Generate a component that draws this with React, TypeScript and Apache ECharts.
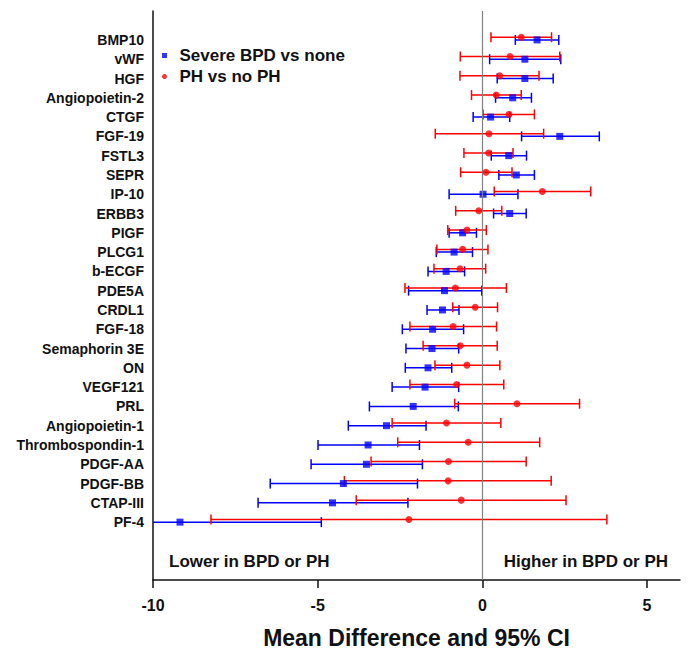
import React, { useEffect, useRef } from "react";
import * as echarts from "echarts";

const categories = [
  "BMP10", "vWF", "HGF", "Angiopoietin-2", "CTGF", "FGF-19", "FSTL3", "SEPR", "IP-10", "ERBB3",
  "PIGF", "PLCG1", "b-ECGF", "PDE5A", "CRDL1", "FGF-18", "Semaphorin 3E", "ON", "VEGF121", "PRL",
  "Angiopoietin-1", "Thrombospondin-1", "PDGF-AA", "PDGF-BB", "CTAP-III", "PF-4",
];
const bpdMean = [1.66, 1.29, 1.29, 0.92, 0.25, 2.35, 0.8, 1.03, 0.02, 0.83, -0.6, -0.86, -1.1, -1.15, -1.21, -1.51, -1.53, -1.65, -1.74, -2.1, -2.91, -3.47, -3.52, -4.22, -4.55, -9.18];
const bpdLow = [1.0, 0.22, 0.45, 0.4, -0.28, 1.19, 0.27, 0.5, -1.01, 0.34, -1.01, -1.4, -1.65, -2.24, -1.68, -2.43, -2.32, -2.34, -2.74, -3.43, -4.07, -4.99, -5.2, -6.44, -6.81, -13.47];
const bpdHigh = [2.32, 2.38, 2.15, 1.49, 0.83, 3.55, 1.34, 1.58, 1.08, 1.33, -0.18, -0.3, -0.54, -0.02, -0.71, -0.57, -0.72, -0.93, -0.72, -0.73, -1.71, -1.91, -1.82, -1.97, -2.26, -4.89];
const phMean = [1.18, 0.84, 0.53, 0.42, 0.81, 0.2, 0.19, 0.11, 1.82, -0.11, -0.47, -0.6, -0.68, -0.82, -0.22, -0.89, -0.67, -0.47, -0.78, 1.05, -1.09, -0.43, -1.03, -1.04, -0.64, -2.23];
const phLow = [0.26, -0.67, -0.68, -0.33, 0.02, -1.43, -0.56, -0.66, 0.36, -0.81, -1.05, -1.38, -1.47, -2.35, -0.9, -2.2, -1.8, -1.44, -2.2, -0.84, -2.74, -2.57, -3.38, -4.19, -3.83, -8.24];
const phHigh = [2.1, 2.35, 1.72, 1.18, 1.58, 1.86, 0.93, 0.9, 3.29, 0.59, 0.12, 0.17, 0.1, 0.73, 0.46, 0.43, 0.45, 0.53, 0.65, 2.95, 0.56, 1.74, 1.33, 2.09, 2.54, 3.78];
const xTicks = [-10, -5, 0, 5];

const BLUE = "#0000ff";
const RED = "#ff0000";
const INK = "#111111";
const FONT = "'Liberation Sans', Arial, sans-serif";
const X_MIN = -10;
const X_MAX = 6;
const PH_OFFSET = -0.14;

function makeErrorRender(color: string, offset: number) {
  return (params: any, api: any) => {
    const lo = api.value(0);
    const hi = api.value(1);
    const row = api.value(2) + offset;
    const clipped = lo < X_MIN;
    const p1 = api.coord([Math.max(lo, X_MIN), row]);
    const p2 = api.coord([hi, row]);
    const cap = 5;
    const style = { stroke: color, lineWidth: 1.5 };
    const children: any[] = [
      { type: "line", shape: { x1: p1[0], y1: p1[1], x2: p2[0], y2: p2[1] }, style },
      { type: "line", shape: { x1: p2[0], y1: p2[1] - cap, x2: p2[0], y2: p2[1] + cap }, style },
    ];
    if (!clipped) {
      children.push({ type: "line", shape: { x1: p1[0], y1: p1[1] - cap, x2: p1[0], y2: p1[1] + cap }, style });
    }
    return { type: "group", children };
  };
}

export default function App() {
  const ref = useRef<HTMLDivElement>(null);
  useEffect(() => {
    if (!ref.current) return;
    const chart = echarts.init(ref.current, null, { renderer: "svg" });
    const rows = categories.map((_, i) => i);
    chart.setOption({
      animation: false,
      backgroundColor: "#ffffff",
      textStyle: { fontFamily: FONT },
      grid: { left: 153, right: 8, top: 11, bottom: 71, containLabel: false, outerBoundsMode: "none" },
      legend: {
        orient: "vertical",
        left: 157,
        top: 42,
        itemWidth: 20,
        itemHeight: 5,
        itemGap: 4,
        symbolKeepAspect: true,
        textStyle: { fontSize: 17, fontWeight: "bold", color: INK, fontFamily: FONT },
        data: [
          { name: "Severe BPD vs none", icon: "path://M0 0H10V10H0Z" },
          { name: "PH vs no PH", icon: "circle" },
        ],
      },
      xAxis: {
        type: "value",
        min: X_MIN,
        max: X_MAX,
        name: "Mean Difference and 95% CI",
        nameLocation: "middle",
        nameGap: 46,
        nameTextStyle: { fontSize: 23, fontWeight: "bold", color: INK, fontFamily: FONT },
        axisLine: { show: true, onZero: false, lineStyle: { color: INK, width: 1.5 } },
        axisTick: { show: true, length: 8, customValues: xTicks, lineStyle: { color: INK, width: 1.5 } },
        axisLabel: {
          customValues: xTicks,
          fontSize: 16,
          fontWeight: "bold",
          color: INK,
          margin: 17,
          fontFamily: FONT,
        },
        splitLine: { show: false },
      },
      yAxis: {
        type: "value",
        inverse: true,
        min: -1.5,
        max: 28,
        axisLine: { show: true, onZero: false, lineStyle: { color: INK, width: 1.5 } },
        axisTick: { show: false },
        axisLabel: {
          customValues: rows,
          formatter: (v: number) => categories[Math.round(v)] ?? "",
          fontSize: 14,
          fontWeight: "bold",
          color: INK,
          margin: 9,
          fontFamily: FONT,
        },
        splitLine: { show: false },
      },
      graphic: [
        {
          type: "text",
          left: 169,
          top: 553,
          style: { text: "Lower in BPD or PH", fontSize: 17, fontWeight: "bold", fill: INK, fontFamily: FONT },
        },
        {
          type: "text",
          right: 20,
          top: 553,
          style: { text: "Higher in BPD or PH", fontSize: 17, fontWeight: "bold", fill: INK, fontFamily: FONT },
        },
      ],
      series: [
        {
          type: "custom",
          name: "bpdCI",
          renderItem: makeErrorRender(BLUE, 0),
          encode: { x: [0, 1], y: 2 },
          data: rows.map((i) => [bpdLow[i], bpdHigh[i], i]),
          z: 2,
          silent: true,
        },
        {
          type: "custom",
          name: "phCI",
          renderItem: makeErrorRender(RED, PH_OFFSET),
          encode: { x: [0, 1], y: 2 },
          data: rows.map((i) => [phLow[i], phHigh[i], i]),
          z: 3,
          silent: true,
        },
        {
          type: "scatter",
          name: "Severe BPD vs none",
          symbol: "rect",
          symbolSize: 7,
          itemStyle: { color: BLUE },
          data: rows.map((i) => [bpdMean[i], i]),
          z: 4,
          markLine: {
            silent: true,
            symbol: "none",
            label: { show: false },
            lineStyle: { color: "#808080", width: 1.2, type: "solid" },
            data: [{ xAxis: 0 }],
          },
        },
        {
          type: "scatter",
          name: "PH vs no PH",
          symbol: "circle",
          symbolSize: 7,
          itemStyle: { color: RED },
          data: rows.map((i) => [phMean[i], i + PH_OFFSET]),
          z: 5,
        },
      ],
    });
    return () => chart.dispose();
  }, []);
  return <div ref={ref} style={{ position: "fixed", left: 0, top: 0, width: 688, height: 651 }} />;
}
